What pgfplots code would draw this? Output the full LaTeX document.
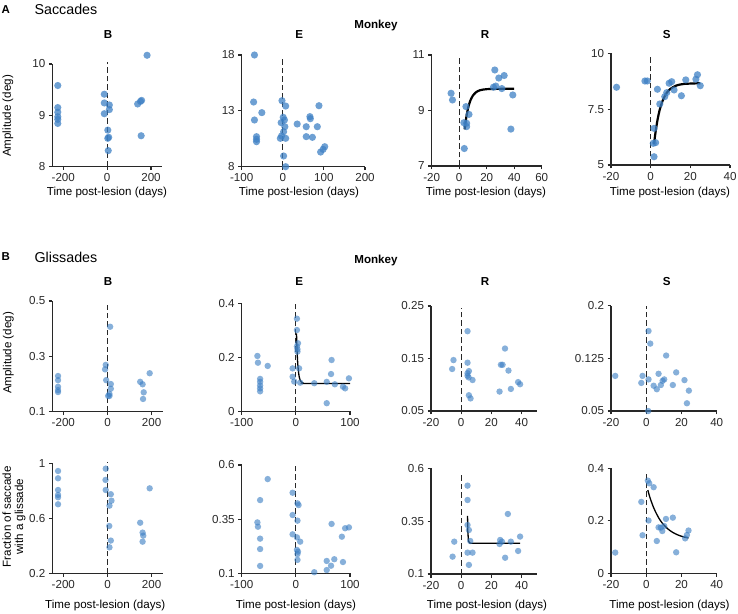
\documentclass[border=0pt]{standalone}
\usepackage{fontspec}
\setmainfont{Liberation Sans}
\usepackage{pgfplots}
\pgfplotsset{compat=1.18}
\definecolor{dotblue}{RGB}{62,128,196}
\definecolor{axgray}{RGB}{40,40,40}
\newcommand\fs{\fontsize{11.6}{13.5}\selectfont}
\pgfplotsset{
 panel/.style={scale only axis, anchor=south west, axis x line*=bottom, axis y line*=left,
   axis line style={-, line width=1.1pt, axgray}, tick align=outside, major tick length=3.5pt,
   tick style={line width=1.1pt, axgray}, clip=false, scaled ticks=false,
   ticklabel style={font=\fs, text=axgray}, minor tick num=0},
 dotsA/.style={only marks, mark=*, mark size=3.6pt, color=dotblue, mark options={draw=dotblue, draw opacity=0, line width=0pt, fill=dotblue, fill opacity=0.75}},
 dotsB/.style={only marks, mark=*, mark size=3.2pt, color=dotblue, mark options={draw=dotblue, draw opacity=0, line width=0pt, fill=dotblue, fill opacity=0.62}},
 zero/.style={no marks, line width=1.2pt, axgray, dash pattern=on 5.5pt off 3pt},
 fitA/.style={no marks, line width=2.2pt, black, smooth},
 fitB/.style={no marks, line width=1.3pt, black, smooth},
}
\begin{document}
\begin{tikzpicture}
\path[use as bounding box] (0pt,0pt) rectangle (738pt,613pt);
% headers
\node[font=\bfseries\fontsize{11.5}{13}\selectfont] at (5.8pt,603.3pt) {A};
\node[anchor=west, font=\fontsize{14.3}{16}\selectfont] at (31pt,603.7pt) {Saccades};
\node[font=\bfseries\fs] at (376pt,587pt) {Monkey};
\node[font=\bfseries\fs] at (108pt,578pt) {B};
\node[font=\bfseries\fs] at (299.3pt,578pt) {E};
\node[font=\bfseries\fs] at (485pt,578pt) {R};
\node[font=\bfseries\fs] at (666.7pt,578pt) {S};
\node[font=\bfseries\fontsize{11.5}{13}\selectfont] at (5.8pt,356pt) {B};
\node[anchor=west, font=\fontsize{14.3}{16}\selectfont] at (31pt,356pt) {Glissades};
\node[font=\bfseries\fs] at (376pt,352pt) {Monkey};
\node[font=\bfseries\fs] at (108pt,331pt) {B};
\node[font=\bfseries\fs] at (299.3pt,331pt) {E};
\node[font=\bfseries\fs] at (485pt,331pt) {R};
\node[font=\bfseries\fs] at (666.7pt,331pt) {S};
% y labels
\node[rotate=90, font=\fs] at (8pt,497pt) {Amplitude (deg)};
\node[rotate=90, font=\fs] at (8.5pt,260pt) {Amplitude (deg)};
\node[rotate=90, font=\fontsize{11.6}{12.5}\selectfont, align=center] at (14pt,96.3pt) {Fraction of saccade\\with a glissade};
% x labels
\foreach \xx in {107,299,486,670} {\node[font=\fs] at (\xx pt,420pt) {Time post-lesion (days)};}
\foreach \xx in {105.3,296,487,669.5} {\node[font=\fs] at (\xx pt,7.5pt) {Time post-lesion (days)};}

% ===== Top row =====
\begin{axis}[panel, at={(52.3pt,446.5pt)}, width=109.7pt, height=102.5pt,
  xmin=-250, xmax=250, ymin=8, ymax=10,
  xtick={-200,0,200}, xticklabels={-200,0,200}, ytick={8,9,10}, yticklabels={8,9,10}]
\addplot[dotsA] coordinates {(-225,9.58) (-225,9.15) (-225,9.06) (-225,8.97) (-225,8.92) (-225,8.84)
 (-13,9.41) (-13,9.24) (-13,9.03) (10,9.2) (10,9.11) (3,8.71) (7,8.57) (3,8.55) (5,8.31)
 (139,9.22) (152,9.27) (157,9.29) (155,8.6) (182,10.17)};
\addplot[zero] coordinates {(0,8) (0,10.04)};
\end{axis}

\begin{axis}[panel, at={(241.7pt,446.3pt)}, width=123.3pt, height=111.7pt,
  xmin=-100, xmax=200, ymin=8, ymax=18,
  xtick={-100,0,100,200}, xticklabels={-100,0,100,200}, ytick={8,13,18}, yticklabels={8,13,18}]
\addplot[dotsA] coordinates {(-69,18.0) (-71,13.79) (-69,12.18) (-51,12.84) (-64,10.69) (-64,10.45) (-64,10.24)
 (-2,13.91) (7,13.43) (1,12.42) (4,12.18) (-4,11.94) (5,11.58) (2,11.13) (-3,10.75) (7,10.54) (-6,10.54)
 (2,8.96) (7,8.0) (35,11.82) (57,11.58) (66,12.48) (67,12.30) (57,10.69) (72,10.63) (84,11.58)
 (88,13.46) (92,9.31) (98,9.55) (102,9.79)};
\addplot[zero] coordinates {(0,8) (0,17.6)};
\end{axis}

\begin{axis}[panel, at={(431.7pt,447pt)}, width=110pt, height=111pt,
  xmin=-20, xmax=60, ymin=7, ymax=11,
  xtick={-20,0,20,40,60}, xticklabels={-20,0,20,40,60}, ytick={7,9,11}, yticklabels={7,9,11}]
\addplot[dotsA] coordinates {(-5.9,9.62) (-4.9,9.38) (4.9,9.14) (7.1,8.86) (3.4,8.56) (5.4,8.54) (5.4,8.42)
 (3.7,7.63) (25.9,10.46) (28.8,10.17) (32.7,10.26) (24.9,9.84) (26.6,9.88) (31,9.79) (39,9.56) (37.6,8.33)};
\addplot[zero] coordinates {(0,7) (0,10.92)};
\addplot[fitA] coordinates {(4,8.32) (5,8.70) (6,8.98) (7,9.19) (8,9.345) (10,9.543) (12,9.65) (15,9.728) (20,9.769) (30,9.78) (40,9.78)};
\end{axis}

\begin{axis}[panel, at={(611pt,448pt)}, width=119pt, height=111.7pt,
  xmin=-20, xmax=40, ymin=5, ymax=10,
  xtick={-20,0,20,40}, xticklabels={-20,0,20,40}, ytick={5,7.5,10}, yticklabels={5,7.5,10}]
\addplot[dotsA] coordinates {(-17.2,8.48) (-2.9,8.76) (-1.7,8.76) (3.4,8.39) (4.6,7.73) (7.1,8.06) (8.1,8.24)
 (9.3,8.66) (10.6,8.73) (11.8,8.36) (15.5,8.10) (17.7,8.81) (22.8,8.84) (23.6,9.04) (25,8.55)
 (1.7,6.64) (1.3,5.97) (2.5,6.0) (1.7,5.37)};
\addplot[zero] coordinates {(0,5) (0,9.85)};
\addplot[fitA] coordinates {(1.7,5.94) (2.5,6.50) (3.5,7.04) (4.5,7.45) (6,7.87) (8,8.22) (10,8.41) (13,8.56) (17,8.63) (25,8.66)};
\end{axis}

% ===== Middle row =====
\begin{axis}[panel, at={(52.3pt,201.3pt)}, width=110.4pt, height=110.7pt,
  xmin=-250, xmax=250, ymin=0.1, ymax=0.5,
  xtick={-200,0,200}, xticklabels={-200,0,200}, ytick={0.1,0.3,0.5}, yticklabels={0.1,0.3,0.5}]
\addplot[dotsB] coordinates {(-224,0.229) (-224,0.214) (-224,0.190) (-224,0.178) (-224,0.171)
 (-8,0.269) (-11,0.253) (-6,0.214) (12,0.407) (15,0.2) (15,0.183) (9,0.164) (9,0.157) (3,0.157)
 (148,0.208) (159,0.199) (164,0.17) (161,0.146) (191,0.239)};
\addplot[zero] coordinates {(0,0.1) (0,0.486)};
\end{axis}

\begin{axis}[panel, at={(241.7pt,201.7pt)}, width=108.3pt, height=108pt,
  xmin=-100, xmax=100, ymin=0, ymax=0.4,
  xtick={-100,0,100}, xticklabels={-100,0,100}, ytick={0,0.2,0.4}, yticklabels={0,0.2,0.4}]
\addplot[dotsB] coordinates {(-71,0.205) (-70,0.180) (-52,0.168) (-66,0.120) (-66,0.109) (-66,0.096) (-66,0.085) (-66,0.074)
 (2,0.343) (2,0.301) (4,0.252) (2,0.240) (3,0.230) (3,0.221) (-6,0.159) (6,0.159) (-6,0.128) (-3,0.110) (8,0.106)
 (34,0.104) (57,0.109) (66,0.190) (65,0.138) (72,0.100) (57,0.030) (87,0.091) (91,0.085) (98,0.122)};
\addplot[zero] coordinates {(0,0) (0,0.398)};
\addplot[fitB] coordinates {(1.2,0.289) (2,0.238) (3,0.193) (4,0.164) (5,0.144) (6,0.130) (8,0.115) (10,0.1085) (14,0.104) (20,0.103) (100,0.103)};
\end{axis}

\begin{axis}[panel, at={(431pt,202pt)}, width=105.7pt, height=105pt,
  xmin=-20, xmax=50, ymin=0.05, ymax=0.25,
  xtick={-20,0,20,40}, xticklabels={-20,0,20,40}, ytick={0.05,0.15,0.25}, yticklabels={0.05,0.15,0.25}]
\addplot[dotsB] coordinates {(4.2,0.202) (-5.1,0.147) (-6,0.130) (4.2,0.142) (5.1,0.126) (4.2,0.122) (4.2,0.117)
 (4.9,0.114) (7.5,0.109) (5.1,0.080) (6.2,0.074) (29,0.169) (26.3,0.138) (27.4,0.138) (31.3,0.127)
 (25.4,0.087) (32.9,0.092) (37.7,0.105) (39,0.101)};
\addplot[zero] coordinates {(0,0.05) (0,0.246)};
\end{axis}

\begin{axis}[panel, at={(611pt,202pt)}, width=105.7pt, height=105.3pt,
  xmin=-20, xmax=40, ymin=0.05, ymax=0.2,
  xtick={-20,0,20,40}, xticklabels={-20,0,20,40}, ytick={0.05,0.125,0.2}, yticklabels={0.05,0.125,0.2}]
\addplot[dotsB] coordinates {(-17.6,0.100) (1.3,0.164) (2.3,0.146) (11.3,0.129) (-2.1,0.100) (-2.8,0.090) (1.3,0.095)
 (7,0.103) (17,0.105) (4.2,0.086) (6,0.081) (8.3,0.087) (9.3,0.093) (10.2,0.095) (15.1,0.087)
 (21.7,0.094) (24.2,0.079) (23.1,0.061) (1.1,0.050)};
\addplot[zero] coordinates {(0,0.05) (0,0.2)};
\end{axis}

% ===== Bottom row =====
\begin{axis}[panel, at={(52.3pt,39.7pt)}, width=110.4pt, height=110pt,
  xmin=-250, xmax=250, ymin=0.2, ymax=1,
  xtick={-200,0,200}, xticklabels={-200,0,200}, ytick={0.2,0.6,1}, yticklabels={0.2,0.6,1}]
\addplot[dotsB] coordinates {(-224,0.944) (-224,0.891) (-224,0.806) (-224,0.770) (-224,0.753) (-224,0.702)
 (-8,0.961) (-9,0.879) (-8,0.806) (15,0.775) (18,0.728) (9,0.692) (8,0.544) (15,0.438) (9,0.389)
 (148,0.568) (159,0.496) (162,0.474) (159,0.430) (191,0.818)};
\addplot[zero] coordinates {(0,0.2) (0,1.01)};
\end{axis}

\begin{axis}[panel, at={(241.7pt,39.7pt)}, width=108.3pt, height=108.3pt,
  xmin=-100, xmax=100, ymin=0.1, ymax=0.6,
  xtick={-100,0,100}, xticklabels={-100,0,100}, ytick={0.1,0.35,0.6}, yticklabels={0.1,0.35,0.6}]
\addplot[dotsB] coordinates {(-52,0.535) (-66,0.438) (-71,0.335) (-70,0.315) (-66,0.260) (-66,0.212) (-66,0.134)
 (-6,0.472) (3,0.423) (5,0.415) (-6,0.369) (3,0.343) (-6,0.280) (2,0.266) (8,0.246) (2,0.208) (4,0.200)
 (3,0.189) (3,0.162) (34,0.105) (57,0.157) (57,0.115) (65,0.135) (71,0.165) (66,0.328) (85,0.269)
 (87,0.152) (91,0.308) (98,0.312)};
\addplot[zero] coordinates {(0,0.1) (0,0.6)};
\end{axis}

\begin{axis}[panel, at={(431pt,39pt)}, width=105.7pt, height=105.7pt,
  xmin=-20, xmax=50, ymin=0.1, ymax=0.6,
  xtick={-20,0,20,40}, xticklabels={-20,0,20,40}, ytick={0.1,0.35,0.6}, yticklabels={0.1,0.35,0.6}]
\addplot[dotsB] coordinates {(4.2,0.518) (4.2,0.450) (4.2,0.332) (5.1,0.308) (6,0.256) (-4.6,0.253) (4.2,0.201)
 (7.5,0.201) (-5.7,0.182) (5.1,0.143) (30.9,0.384) (25.8,0.261) (27,0.253) (25.4,0.242) (32.9,0.253)
 (39,0.277) (37.7,0.209) (29.1,0.177)};
\addplot[zero] coordinates {(0,0.1) (0,0.58)};
\addplot[no marks, line width=1.3pt, black] coordinates {(4.2,0.375) (4.4,0.30) (4.8,0.257) (5.5,0.247) (7,0.245) (39,0.245)};
\end{axis}

\begin{axis}[panel, at={(611pt,39.7pt)}, width=105.7pt, height=105pt,
  xmin=-20, xmax=40, ymin=0, ymax=0.4,
  xtick={-20,0,20,40}, xticklabels={-20,0,20,40}, ytick={0,0.2,0.4}, yticklabels={0,0.2,0.4}]
\addplot[dotsB] coordinates {(-17.6,0.079) (-2.8,0.272) (-2.1,0.145) (0.9,0.353) (1.7,0.343) (4.2,0.328) (1.3,0.201)
 (6,0.123) (7,0.175) (8.3,0.174) (9.1,0.161) (10.2,0.180) (11.2,0.207) (15.1,0.212) (17,0.080)
 (22.1,0.133) (23.1,0.146) (24,0.163)};
\addplot[zero] coordinates {(0,0) (0,0.385)};
\addplot[fitB] coordinates {(0.9,0.317) (2,0.291) (3.5,0.262) (5,0.238) (7,0.212) (9,0.192) (12,0.1705) (15,0.156) (18,0.146) (21,0.139) (24,0.1346)};
\end{axis}
\end{tikzpicture}
\end{document}
